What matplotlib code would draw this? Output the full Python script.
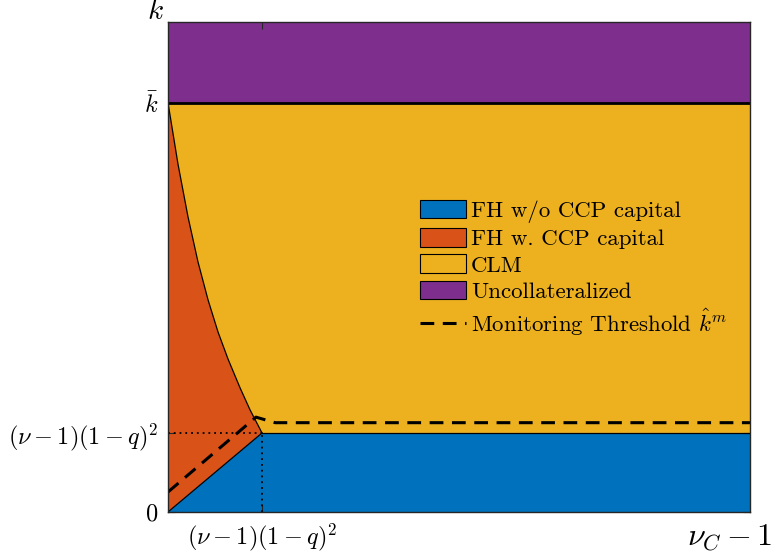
import numpy as np
import matplotlib.pyplot as plt
from matplotlib.patches import Patch
from matplotlib.lines import Line2D

plt.rcParams['font.family'] = 'serif'
plt.rcParams['font.serif'] = ['cmr10', 'DejaVu Serif']
plt.rcParams['mathtext.fontset'] = 'cm'
plt.rcParams['axes.unicode_minus'] = False

# kink point (nu-1)(1-q)^2 on both axes, kbar, axis limits
x_kink, y_kink = 1.0, 1.0
k_bar = 5.18
x_max, y_max = 6.19, 6.20

# boundary between FH w. CCP capital and CLM
curve_x = [0.0, 0.106, 0.213, 0.319, 0.426, 0.532, 0.638, 0.766, 0.872, 1.0]
curve_y = [5.18, 4.405, 3.734, 3.165, 2.684, 2.278, 1.937, 1.572, 1.294, 1.0]

# monitoring threshold
thresh_x = [0.0, 0.936, 1.14, 6.19]
thresh_y = [0.253, 1.20, 1.13, 1.13]

ytick_vals = [0, y_kink, k_bar]
ytick_labels = ['$0$', r'$(\nu-1)(1-q)^2$', r'$\bar{k}$']
xtick_vals = [x_kink]
xtick_labels = [r'$(\nu-1)(1-q)^2$']

labels = ['FH w/o CCP capital', 'FH w. CCP capital', 'CLM', 'Uncollateralized',
          r'Monitoring Threshold $\hat{k}^m$']
colors = ['#0072BD', '#D95319', '#EDB120', '#7E2F8E']

fig = plt.figure(figsize=(7.77, 5.57), dpi=100)
ax = fig.add_axes([0.2162, 0.0808, 0.7491, 0.8797])

# regions
ax.fill([0, x_kink, x_max, x_max], [0, y_kink, y_kink, 0], color=colors[0], lw=0)
ax.fill([0] + curve_x + [0], [0] + curve_y + [0], color=colors[1], lw=0)
ax.fill(curve_x + [x_max, x_max], curve_y + [y_kink, k_bar], color=colors[2], lw=0)
ax.fill([0, x_max, x_max, 0], [k_bar, k_bar, y_max, y_max], color=colors[3], lw=0)

# boundaries
ax.plot(curve_x, curve_y, color='k', lw=0.9)
ax.plot([0, x_kink], [0, y_kink], color='k', lw=0.9)
ax.plot([x_kink, x_max], [y_kink, y_kink], color='k', lw=0.9)
ax.plot([0, x_max], [k_bar, k_bar], color='k', lw=2)
ax.plot([0, x_kink], [y_kink, y_kink], color='k', lw=1.3, ls=(0, (1, 2.2)))
ax.plot([x_kink, x_kink], [0, y_kink], color='k', lw=1.3, ls=(0, (1, 2.2)))
ax.plot(thresh_x, thresh_y, color='k', lw=2.2, ls=(0, (4.5, 2.8)))

ax.set_xlim(0, x_max)
ax.set_ylim(0, y_max)
ax.set_xticks(xtick_vals)
ax.set_xticklabels(xtick_labels, fontsize=17.5)
ax.set_yticks(ytick_vals)
ax.set_yticklabels(ytick_labels, fontsize=17.5)
ax.tick_params(direction='in', top=True, right=True, length=5, color='#262626', pad=7)
for s in ax.spines.values():
    s.set_color('#262626')
    s.set_linewidth(1.0)

ax.set_ylabel('$k$', rotation=0, fontsize=21, va='center', ha='center')
ax.yaxis.set_label_coords(-0.021, 1.02)
ax.set_xlabel(r'$\nu_C - 1$', fontsize=23, va='center', ha='center')
ax.xaxis.set_label_coords(0.965, -0.053)

handles = [Patch(facecolor=c, edgecolor='k', lw=0.8) for c in colors]
handles.append(Line2D([], [], color='k', lw=2.2, ls=(0, (4.5, 2.8))))
ax.legend(handles, labels, loc='upper left', bbox_to_anchor=(0.418, 0.655), frameon=False,
          fontsize=16.5, handlelength=2.0, handleheight=0.85, handletextpad=0.2,
          labelspacing=0.22, borderaxespad=0)

fig.savefig('out.png', dpi=100)
